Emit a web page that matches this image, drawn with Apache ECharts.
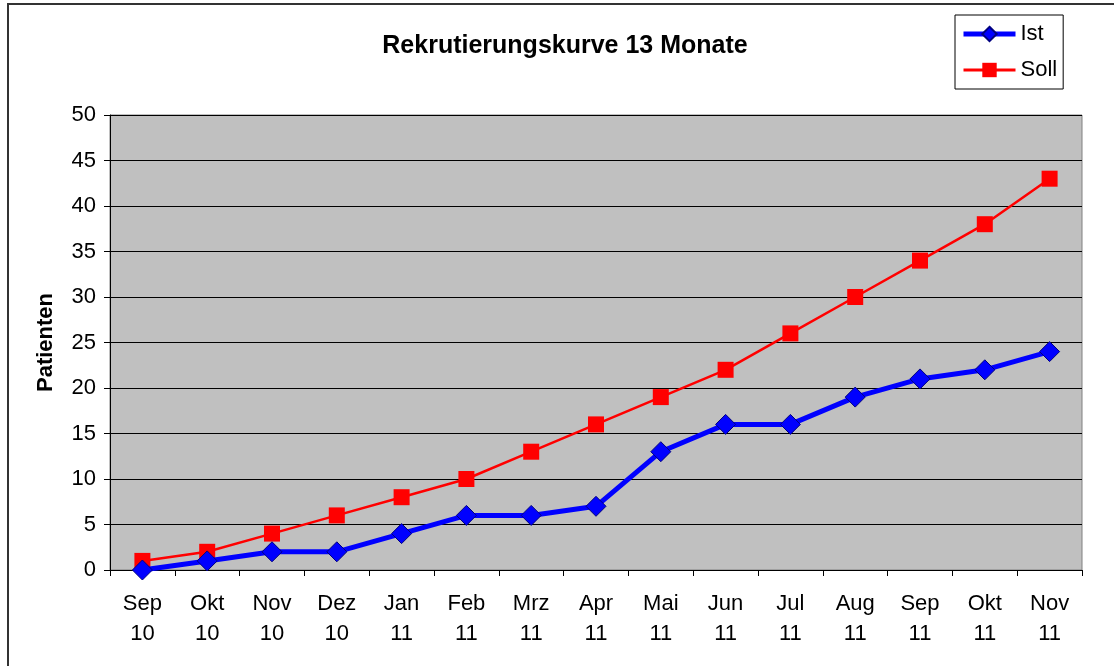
<!DOCTYPE html>
<html><head><meta charset="utf-8">
<script src="https://cdn.jsdelivr.net/npm/echarts@6/dist/echarts.min.js"></script>
<style>html,body{margin:0;padding:0;background:#fff}#c{width:1114px;height:666px}</style>
</head><body><div id="c"></div>
<script>
const categories = ['Sep\n10','Okt\n10','Nov\n10','Dez\n10','Jan\n11','Feb\n11','Mrz\n11','Apr\n11','Mai\n11','Jun\n11','Jul\n11','Aug\n11','Sep\n11','Okt\n11','Nov\n11'];
const ist = [0,1,2,2,4,6,6,7,13,16,16,19,21,22,24];
const soll = [1,2,4,6,8,10,13,16,19,22,26,30,34,38,43];
const font = 'Liberation Sans, Arial, sans-serif';
const chart = echarts.init(document.getElementById('c'));
chart.setOption({
  animation: false,
  textStyle: {fontFamily: font},
  graphic: [{type:'rect', shape:{x:8,y:4,width:1120,height:700}, style:{fill:'none', stroke:'#333', lineWidth:2}, silent:true}],
  title: {text:'Rekrutierungskurve 13 Monate', left:560, top:29, textAlign:'center',
    textStyle:{fontFamily:font, fontSize:25, fontWeight:'bold', color:'#000'}},
  legend: {orient:'vertical', left:955, top:15, itemWidth:52, itemHeight:18, itemGap:14,
    padding:[8,6,8,6], borderColor:'#000', borderWidth:1, backgroundColor:'#fff',
    textStyle:{fontFamily:font, fontSize:22, color:'#000'},
    data:[{name:'Ist', lineStyle:{width:5}}, {name:'Soll', lineStyle:{width:3}}]},
  grid: {left:110, right:32, top:115, bottom:96, show:true, backgroundColor:'#C0C0C0', borderColor:'#808080', borderWidth:1},
  xAxis: {type:'category', data:categories, boundaryGap:true,
    axisLine:{lineStyle:{color:'#000', width:1}},
    axisTick:{show:true, length:6, lineStyle:{color:'#000'}},
    axisLabel:{fontFamily:font, fontSize:22, color:'#000', lineHeight:30, margin:19}},
  yAxis: {type:'value', min:0, max:50, interval:5, name:'Patienten', nameLocation:'middle', nameGap:53,
    nameTextStyle:{fontFamily:font, fontSize:22, fontWeight:'bold', color:'#000'},
    axisLine:{show:true, lineStyle:{color:'#000'}},
    axisTick:{show:true, length:6, lineStyle:{color:'#000'}},
    axisLabel:{fontFamily:font, fontSize:22, color:'#000', margin:14},
    splitLine:{lineStyle:{color:'#000', width:1}}},
  series: [
    {name:'Ist', type:'line', data:ist, symbol:'diamond', symbolSize:20,
      lineStyle:{color:'#0000FF', width:5}, itemStyle:{color:'#0000FF', borderColor:'#000080', borderWidth:1}, z:3},
    {name:'Soll', type:'line', data:soll, symbol:'rect', symbolSize:16,
      lineStyle:{color:'#FF0000', width:2.5}, itemStyle:{color:'#FF0000'}, z:2}
  ]
});
</script></body></html>
